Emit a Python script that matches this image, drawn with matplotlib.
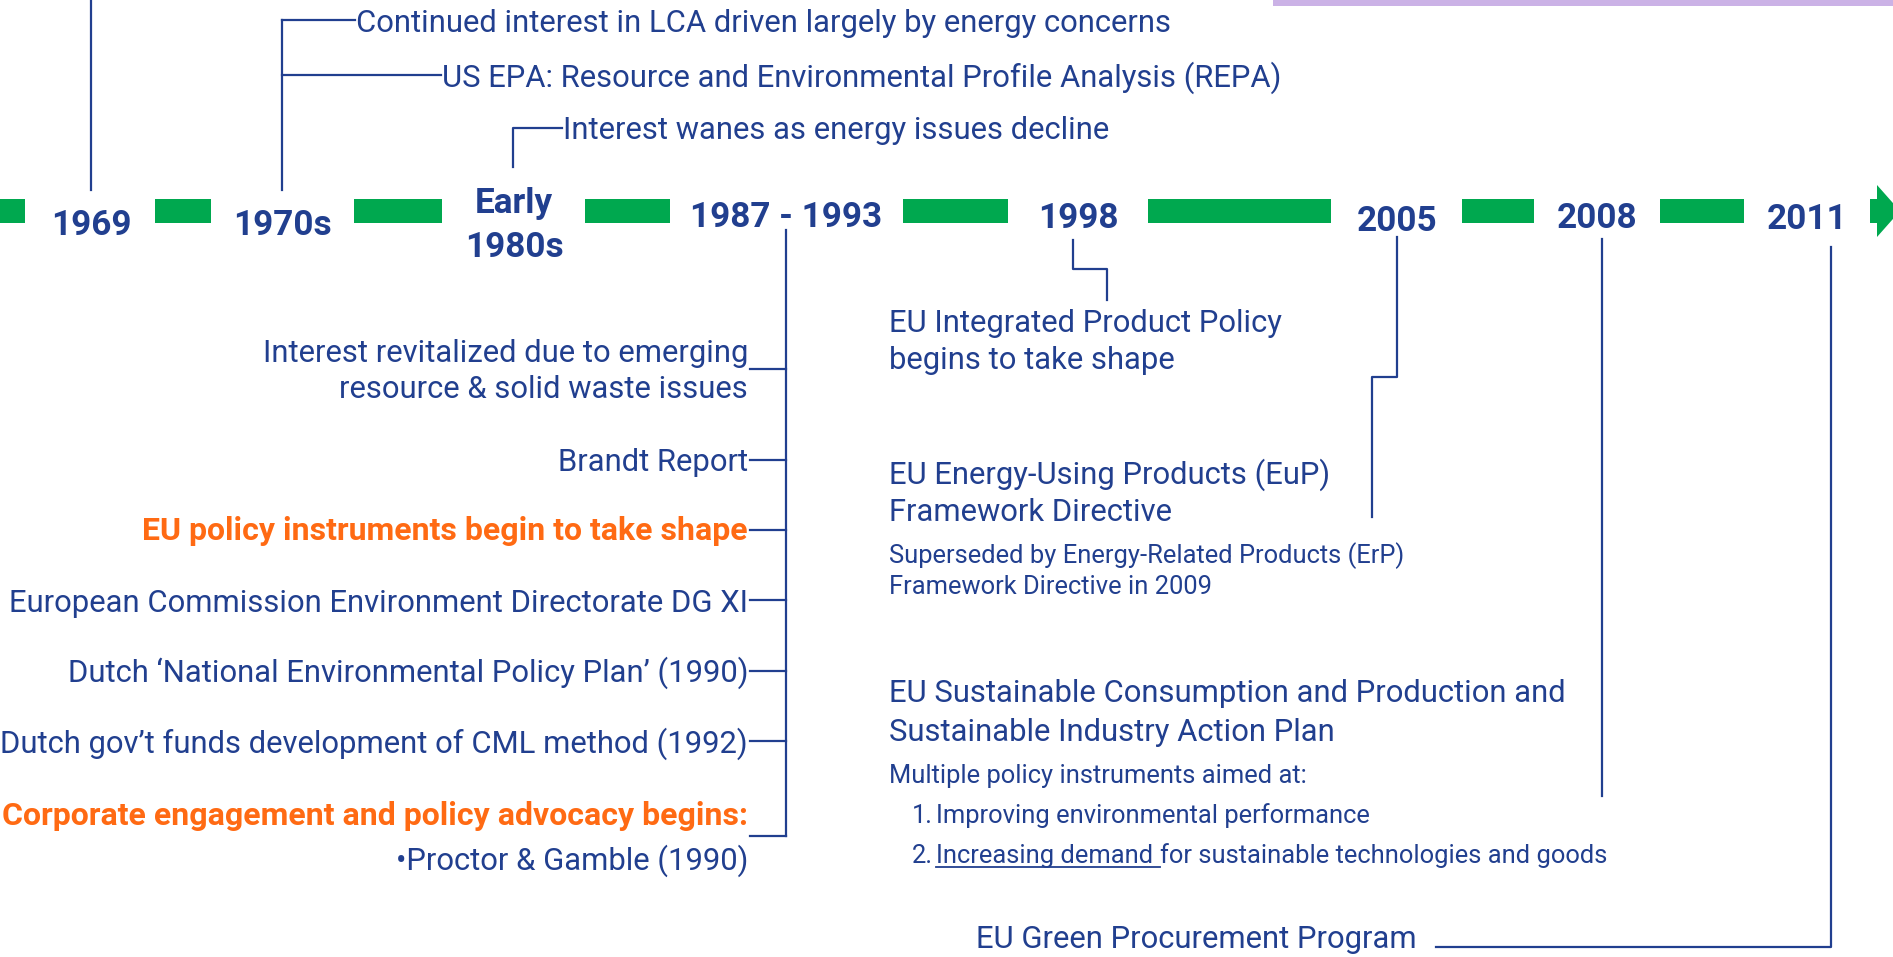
import matplotlib.pyplot as plt
from matplotlib.patches import Rectangle, Polygon

plt.rcParams['font.family'] = ['Roboto', 'DejaVu Sans']

BLUE = '#213f8f'
GREEN = '#00a84f'
ORANGE = '#ff6a13'
PURPLE = '#cbb2e6'

# timeline milestones
years = ['1969', '1970s', 'Early\n1980s', '1987 - 1993', '1998', '2005', '2008', '2011']
year_x = [91, 282, 514, 786, 1078, 1397, 1597, 1807]
year_base = [235, 235, 213, 227, 228, 231, 228, 229]

# green dashes of the arrow (x start, x end)
dash_x0 = [0, 155, 354, 585, 903, 1148, 1462, 1660]
dash_x1 = [25, 211, 442, 670, 1008, 1331, 1534, 1744]

# events above the line
top_events = ['Continued interest in LCA driven largely by energy concerns',
              'US EPA: Resource and Environmental Profile Analysis (REPA)',
              'Interest wanes as energy issues decline']

# 1987-1993 events (right aligned, left of the bracket)
mid_events = [['Interest revitalized due to emerging', 'resource & solid waste issues'],
              ['Brandt Report'],
              ['EU policy instruments begin to take shape'],
              ['European Commission Environment Directorate DG XI'],
              ['Dutch \u2018National Environmental Policy Plan\u2019 (1990)'],
              ['Dutch gov\u2019t funds development of CML method (1992)'],
              ['Corporate engagement and policy advocacy begins:']]
mid_sub = '\u2022Proctor & Gamble (1990)'
mid_orange = [False, False, True, False, False, False, True]

ipp_lines = ['EU Integrated Product Policy', 'begins to take shape']
eup_lines = ['EU Energy-Using Products (EuP)', 'Framework Directive']
erp_lines = ['Superseded by Energy-Related Products (ErP)', 'Framework Directive in 2009']
scp_lines = ['EU Sustainable Consumption and Production and', 'Sustainable Industry Action Plan']
scp_note = 'Multiple policy instruments aimed at:'
scp_items = ['Improving environmental performance',
             'for sustainable technologies and goods']
scp_underlined = 'Increasing demand '
gpp_label = 'EU Green Procurement Program'

fig = plt.figure(figsize=(18.93, 9.57), dpi=100)
ax = fig.add_axes([0, 0, 1, 1])
ax.set_xlim(0, 1893)
ax.set_ylim(957, 0)
ax.axis('off')

BODY = 22.3
BOLD = 23
SMALL = 18.4
YEAR = 25.3
lw = 1.6

# purple strip top right
ax.add_patch(Rectangle((1273, 0), 620, 6, color=PURPLE, lw=0))

# green timeline
for a, b in zip(dash_x0, dash_x1):
    ax.add_patch(Rectangle((a, 199), b - a, 24, color=GREEN, lw=0))
ax.add_patch(Rectangle((1870, 199), 8, 24, color=GREEN, lw=0))
ax.add_patch(Polygon([(1877, 185), (1900, 211), (1877, 237)], closed=True, color=GREEN, lw=0))

# year labels
for lab, x, yb in zip(years, year_x, year_base):
    for i, ln in enumerate(lab.split('\n')):
        ax.text(x, yb + 44 * i, ln, ha='center', va='baseline', color=BLUE,
                fontsize=YEAR, fontweight='bold')

# 1969 line going up
ax.plot([91, 91], [0, 190], color=BLUE, lw=lw)

# 1970s bracket
ax.plot([282, 282], [20, 190], color=BLUE, lw=lw)
ax.plot([282, 355], [20, 20], color=BLUE, lw=lw)
ax.plot([282, 441], [75, 75], color=BLUE, lw=lw)
ax.text(356, 32, top_events[0], ha='left', va='baseline', color=BLUE, fontsize=BODY)
ax.text(442, 87, top_events[1], ha='left', va='baseline', color=BLUE, fontsize=BODY)

# early 1980s
ax.plot([513, 513, 562], [167, 128, 128], color=BLUE, lw=lw)
ax.text(563, 139, top_events[2], ha='left', va='baseline', color=BLUE, fontsize=BODY)

# 1987 - 1993 bracket
ax.plot([786, 786], [230, 836], color=BLUE, lw=lw)
tick_y = [369, 460, 530, 600, 671, 741, 836]
base_y = [[362, 398], [471], [540], [612], [682], [753], [825]]
for lines, ty, bys, orange in zip(mid_events, tick_y, base_y, mid_orange):
    ax.plot([750, 786], [ty, ty], color=BLUE, lw=lw)
    for ln, by in zip(lines, bys):
        ax.text(748, by, ln, ha='right', va='baseline',
                fontsize=BOLD if orange else BODY,
                color=ORANGE if orange else BLUE,
                fontweight='bold' if orange else 'normal')
ax.text(748, 870, mid_sub, ha='right', va='baseline', color=BLUE, fontsize=BODY)

# 1998
ax.plot([1073, 1073, 1107, 1107], [240, 269, 269, 300], color=BLUE, lw=lw)
for ln, by in zip(ipp_lines, [332, 369]):
    ax.text(889, by, ln, ha='left', va='baseline', color=BLUE, fontsize=BODY)

# 2005
ax.plot([1397, 1397, 1372, 1372], [237, 377, 377, 517], color=BLUE, lw=lw)
for ln, by in zip(eup_lines, [484, 521]):
    ax.text(889, by, ln, ha='left', va='baseline', color=BLUE, fontsize=BODY)
for ln, by in zip(erp_lines, [563, 594]):
    ax.text(889, by, ln, ha='left', va='baseline', color=BLUE, fontsize=SMALL)

# 2008
ax.plot([1602, 1602], [239, 796], color=BLUE, lw=lw)
for ln, by in zip(scp_lines, [702, 741]):
    ax.text(889, by, ln, ha='left', va='baseline', color=BLUE, fontsize=BODY)
ax.text(889, 783, scp_note, ha='left', va='baseline', color=BLUE, fontsize=SMALL)
ax.text(933, 823, '1.', ha='right', va='baseline', color=BLUE, fontsize=SMALL)
ax.text(936, 823, scp_items[0], ha='left', va='baseline', color=BLUE, fontsize=SMALL)
ax.text(933, 863, '2.', ha='right', va='baseline', color=BLUE, fontsize=SMALL)
t = ax.text(936, 863, scp_underlined, ha='left', va='baseline', color=BLUE, fontsize=SMALL)
fig.canvas.draw()
bb = t.get_window_extent().transformed(ax.transData.inverted())
ax.plot([936, bb.x1], [867, 867], color=BLUE, lw=1.3)
ax.text(bb.x1, 863, scp_items[1], ha='left', va='baseline', color=BLUE, fontsize=SMALL)

# 2011
ax.plot([1831, 1831, 1436], [247, 947, 947], color=BLUE, lw=lw)
ax.text(976, 948, gpp_label, ha='left', va='baseline', color=BLUE, fontsize=BODY)

fig.savefig('out.png', dpi=100)
